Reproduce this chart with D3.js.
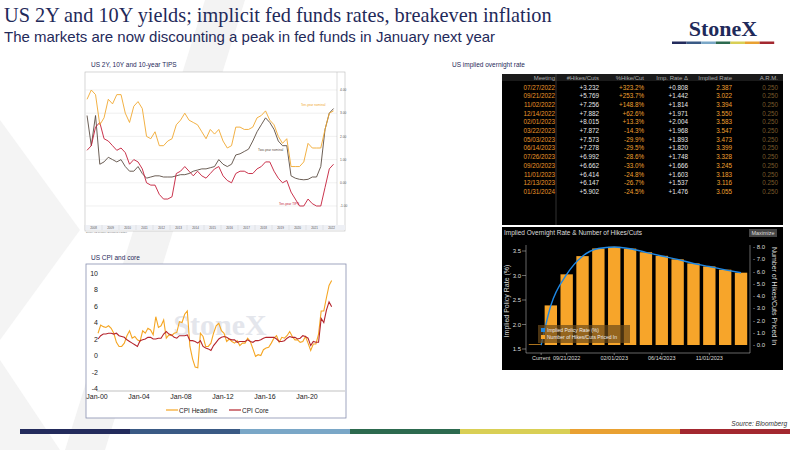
<!DOCTYPE html>
<html><head><meta charset="utf-8">
<script src="https://cdn.jsdelivr.net/npm/d3@7"></script>
<style>body{margin:0;background:#fff}svg{display:block}</style>
</head><body><svg id="s" width="800" height="450"></svg>
<script>
// ---------- DATA ----------
const yieldYears = d3.range(2008, 2023);
const tenY = [3.6,4.0,3.8,2.5, 2.8,3.6,3.4,3.8, 3.8,3.0,2.6,3.3, 3.5,3.2,2.0,1.9, 2.2,1.6,1.6,1.8, 1.9,2.5,2.7,3.0, 2.7,2.6,2.5,2.2, 1.9,2.3,2.1,2.3, 1.8,1.5,1.6,2.4, 2.4,2.3,2.3,2.4, 2.8,2.9,3.1,2.7, 2.5,2.0,1.7,1.9, 0.7,0.7,0.7,0.9, 1.7,1.5,1.5,1.5, 2.3,3.0,3.1];
const twoY = [2.9,1.6,2.9,0.8, 0.9,1.1,1.0,0.9, 1.0,0.7,0.5,0.5, 0.7,0.4,0.2,0.25, 0.3,0.3,0.25,0.25, 0.25,0.3,0.35,0.35, 0.4,0.5,0.55,0.6, 0.6,0.65,0.7,1.0, 0.8,0.7,0.8,1.2, 1.25,1.35,1.45,1.8, 2.2,2.5,2.8,2.6, 2.3,1.8,1.6,1.6, 0.3,0.2,0.15,0.13, 0.15,0.25,0.25,0.7, 2.3,3.0,3.2];
const tips = [1.4,1.6,2.4,2.6, 1.9,1.8,1.6,1.4, 1.5,1.3,0.8,1.0, 0.9,0.6,0.0,-0.1, -0.1,-0.5,-0.7,-0.7, -0.6,0.4,0.5,0.7, 0.5,0.3,0.5,0.3, 0.2,0.4,0.6,0.7, 0.3,0.1,0.0,0.4, 0.5,0.5,0.4,0.4, 0.6,0.7,0.9,0.9, 0.5,0.2,0.0,0.1, -0.4,-0.7,-1.0,-1.0, -0.7,-0.9,-1.0,-1.0, -0.2,0.6,0.8];
const yieldTicks = [4.00,3.00,2.00,1.00,0.00,-1.00];

const cpiHead = [2.7,3.7,3.5,3.4, 3.6,3.3,2.7,1.6, 1.1,1.1,1.5,2.4, 3.0,2.1,2.3,1.9, 1.7,3.0,2.7,3.3, 3.1,2.5,4.7,3.4, 3.6,4.3,2.1,2.5, 2.4,2.7,2.8,4.1, 4.0,5.0,5.4,1.1, -0.4,-1.4,-1.5,2.7, 2.3,1.1,1.1,1.5, 2.7,3.6,3.9,3.0, 2.7,1.7,2.0,1.7, 1.5,1.8,1.2,1.5, 1.5,2.1,1.7,0.8, -0.1,0.1,0.0,0.7, 0.9,1.0,1.5,2.1, 2.4,1.6,2.2,2.1, 2.4,2.9,2.3,1.9, 1.9,1.6,1.7,2.3, 1.5,0.6,1.4,1.4, 2.6,5.4,5.4,7.0, 8.5,9.1];
const cpiCore = [2.0,2.4,2.6,2.6, 2.7,2.7,2.6,2.7, 2.4,2.3,2.2,1.9, 1.7,1.5,1.3,1.1, 1.8,1.9,2.0,2.2, 2.2,2.0,2.0,2.1, 2.1,2.6,2.9,2.6, 2.5,2.2,2.1,2.4, 2.4,2.4,2.5,1.8, 1.8,1.7,1.5,1.8, 1.1,0.9,0.8,0.6, 1.2,1.6,2.0,2.2, 2.3,2.2,2.0,1.9, 1.9,1.6,1.7,1.7, 1.7,1.9,1.7,1.6, 1.8,1.8,1.9,2.1, 2.2,2.2,2.2,2.2, 2.0,1.7,1.7,1.8, 2.1,2.3,2.2,2.2, 2.0,2.1,2.4,2.3, 2.1,1.2,1.7,1.6, 1.6,4.5,4.0,5.5, 6.5,5.9];
const cpiTicks = [10,8,6,4,2,0,-2,-4];
const cpiXLabels = ["Jan-00","Jan-04","Jan-08","Jan-12","Jan-16","Jan-20"];

const tableHeader = ["Meeting","#Hikes/Cuts","%Hike/Cut","Imp. Rate Δ","Implied Rate","A.R.M."];
const meetings = ["07/27/2022","09/21/2022","11/02/2022","12/14/2022","02/01/2023","03/22/2023","05/03/2023","06/14/2023","07/26/2023","09/20/2023","11/01/2023","12/13/2023","01/31/2024"];
const hikes = [3.232,5.769,7.256,7.882,8.015,7.872,7.573,7.278,6.992,6.662,6.414,6.147,5.902];
const pctHike = ["+323.2%","+253.7%","+148.8%","+62.6%","+13.3%","-14.3%","-29.9%","-29.5%","-28.6%","-33.0%","-24.8%","-26.7%","-24.5%"];
const impDelta = [0.808,1.442,1.814,1.971,2.004,1.968,1.893,1.820,1.748,1.666,1.603,1.537,1.476];
const impRate = [2.387,3.022,3.394,3.550,3.583,3.547,3.473,3.399,3.328,3.245,3.183,3.116,3.055];
const arm = 0.250;
const currentRate = 1.58;
const barXLabels = ["Current","09/21/2022","02/01/2023","06/14/2023","11/01/2023"];
const leftTicks = [1.5,2.0,2.5,3.0,3.5];
const rightTicks = [0,1,2,3,4,5,6,7,8];

const stripe = ["#232b5c","#3a5a85","#7aa7c7","#2d6a4f","#d9cf55","#e9a132","#a3282f"];

// ---------- DRAW ----------
const svg = d3.select("#s");
const navy = "#1f2a5a";
svg.append("path").attr("d","M205,0 L245,0 L105,450 L65,450 Z").attr("fill","#f3f3f3");
svg.append("path").attr("d","M0,120 L80,230 L0,340 Z").attr("fill","#f4f4f4");
svg.append("path").attr("d","M0,360 L60,450 L0,450 Z").attr("fill","#f4f4f4");

svg.append("text").attr("x",4).attr("y",22).attr("font-family","Liberation Serif").attr("font-size",20.3).attr("fill",navy).text("US 2Y and 10Y yields; implicit fed funds rates, breakeven inflation");
svg.append("text").attr("x",4).attr("y",42).attr("font-family","Liberation Sans").attr("font-size",15).attr("fill",navy).text("The markets are now discounting a peak in fed funds in January next year");
svg.append("text").attr("x",723).attr("y",36).attr("text-anchor","middle").attr("font-family","Liberation Serif").attr("font-weight","bold").attr("font-size",22).attr("fill",navy).text("StoneX");
stripe.forEach((c,i)=>svg.append("rect").attr("x",672+i*14.6).attr("y",41.5).attr("width",14.6).attr("height",2.5).attr("fill",c));
stripe.forEach((c,i)=>svg.append("rect").attr("x",20+i*110).attr("y",429).attr("width",110).attr("height",5).attr("fill",c));
svg.append("text").attr("x",787).attr("y",426).attr("text-anchor","end").attr("font-family","Liberation Sans").attr("font-style","italic").attr("font-size",6.5).attr("fill","#333").text("Source: Bloomberg");

// ---- top-left yields chart ----
(function(){
  const g = svg.append("g");
  g.append("text").attr("x",91).attr("y",67).attr("font-family","Liberation Sans").attr("font-size",6.5).attr("fill",navy).text("US 2Y, 10Y and 10-year TIPS");
  const L=85,R=337,T=72,B=225;
  g.append("rect").attr("x",L).attr("y",T).attr("width",260).attr("height",159).attr("fill","#fff").attr("stroke","#bbb").attr("stroke-width",0.6);
  const x = d3.scaleLinear().domain([2008,2023]).range([L,R+3]);
  const y = d3.scaleLinear().domain([-1,4]).range([206,90]);
  yieldTicks.forEach(t=>{
    g.append("line").attr("x1",L).attr("x2",R).attr("y1",y(t)).attr("y2",y(t)).attr("stroke","#e6e6e6").attr("stroke-width",0.6);
    g.append("text").attr("x",R+3).attr("y",y(t)+1.2).attr("font-size",3.2).attr("font-family","Liberation Sans").attr("fill","#555").text(t.toFixed(2));
  });
  g.append("line").attr("x1",R).attr("x2",R).attr("y1",T).attr("y2",B).attr("stroke","#bbb").attr("stroke-width",0.5);
  g.append("rect").attr("x",L).attr("y",B).attr("width",260).attr("height",5).attr("fill","#eef0f5");
  yieldYears.forEach(yr=>{
    g.append("text").attr("x",x(yr+0.5)).attr("y",229).attr("text-anchor","middle").attr("font-size",3).attr("font-family","Liberation Sans").attr("fill","#555").text(yr);
    g.append("line").attr("x1",x(yr)).attr("x2",x(yr)).attr("y1",B).attr("y2",B+5).attr("stroke","#ccc").attr("stroke-width",0.4);
  });
  const line = d3.line().x((d,i)=>x(2008+i/4+0.12)).y(d=>y(d));
  [[twoY,"#5b4d43"],[tips,"#c41e3a"],[tenY,"#f0a830"]].forEach(([d,c])=>g.append("path").attr("d",line(d)).attr("fill","none").attr("stroke",c).attr("stroke-width",0.9));
  g.append("text").attr("x",301).attr("y",106).attr("font-size",3.2).attr("fill","#f0a830").attr("font-family","Liberation Sans").text("Ten-year nominal");
  g.append("text").attr("x",258).attr("y",151).attr("font-size",3.2).attr("fill","#5b4d43").attr("font-family","Liberation Sans").text("Two-year nominal");
  g.append("text").attr("x",279).attr("y",205).attr("font-size",3.2).attr("fill","#c41e3a").attr("font-family","Liberation Sans").text("Ten-year TIPS");
  g.append("text").attr("x",L+1).attr("y",233).attr("font-size",2.2).attr("fill","#777").attr("font-family","Liberation Sans").text("Source: US Treasury; Bloomberg; FactSet");
})();

// ---- bottom-left CPI ----
(function(){
  const g = svg.append("g");
  g.append("text").attr("x",91).attr("y",260).attr("font-family","Liberation Sans").attr("font-size",6.5).attr("fill",navy).text("US CPI and core");
  g.append("rect").attr("x",86).attr("y",264).attr("width",260).attr("height",154).attr("fill","#fff").attr("stroke","#8890b0").attr("stroke-width",0.8);
  const x = d3.scaleLinear().domain([2000,2020]).range([97,307]);
  const y = d3.scaleLinear().domain([-4,10]).range([388.5,273]);
  g.append("text").attr("x",220).attr("y",335).attr("text-anchor","middle").attr("font-family","Liberation Serif").attr("font-weight","bold").attr("font-size",30).attr("fill","#e4e6ec").text("StoneX");
  cpiTicks.forEach(t=>g.append("text").attr("x",98).attr("y",y(t)+2.5).attr("text-anchor","end").attr("font-size",7).attr("font-family","Liberation Sans").attr("fill","#222").text(t));
  g.append("line").attr("x1",97).attr("x2",345).attr("y1",391).attr("y2",391).attr("stroke","#999").attr("stroke-width",0.6);
  cpiXLabels.forEach((l,i)=>g.append("text").attr("x",x(2000+i*4)).attr("y",399).attr("text-anchor","middle").attr("font-size",7).attr("font-family","Liberation Sans").attr("fill","#222").text(l));
  const line = d3.line().x((d,i)=>x(2000+i/4+0.1)).y(d=>y(d));
  g.append("path").attr("d",line(cpiHead)).attr("fill","none").attr("stroke","#f5a623").attr("stroke-width",1.1);
  g.append("path").attr("d",line(cpiCore)).attr("fill","none").attr("stroke","#b5252d").attr("stroke-width",1.1);
  g.append("line").attr("x1",166).attr("x2",178).attr("y1",410).attr("y2",410).attr("stroke","#f5a623").attr("stroke-width",1.2);
  g.append("text").attr("x",179).attr("y",412.5).attr("font-size",6.5).attr("font-family","Liberation Sans").attr("fill","#222").text("CPI Headline");
  g.append("line").attr("x1",229).attr("x2",241).attr("y1",410).attr("y2",410).attr("stroke","#b5252d").attr("stroke-width",1.2);
  g.append("text").attr("x",242).attr("y",412.5).attr("font-size",6.5).attr("font-family","Liberation Sans").attr("fill","#222").text("CPI Core");
})();

// ---- table ----
(function(){
  const g = svg.append("g");
  g.append("text").attr("x",452).attr("y",67).attr("font-family","Liberation Sans").attr("font-size",6.5).attr("fill",navy).text("US implied overnight  rate");
  g.append("rect").attr("x",502).attr("y",74).attr("width",281).attr("height",151).attr("fill","#000");
  g.append("rect").attr("x",502).attr("y",74).attr("width",281).attr("height",7).attr("fill","#1a1a1a");
  g.append("line").attr("x1",556).attr("x2",556).attr("y1",74).attr("y2",225).attr("stroke","#555").attr("stroke-width",0.6);
  const cx=[555,599,644,688,732,778];
  tableHeader.forEach((h,i)=>g.append("text").attr("x",cx[i]).attr("y",80).attr("text-anchor","end").attr("font-size",6).attr("font-family","Liberation Sans").attr("fill","#aaa").text(h));
  meetings.forEach((m,r)=>{
    const yy=89.5+r*8.7;
    const vals=[m,"+"+hikes[r].toFixed(3),pctHike[r],"+"+impDelta[r].toFixed(3),impRate[r].toFixed(3),arm.toFixed(3)];
    vals.forEach((v,i)=>g.append("text").attr("x",cx[i]).attr("y",yy).attr("text-anchor","end").attr("font-size",6.3).attr("font-family","Liberation Sans").attr("fill",i==5?"#7a5a2a":(i==0?"#e9962a":(i==1||i==3?"#e8e8e8":"#f0a030"))).text(v));
  });
})();

// ---- bar/line chart ----
(function(){
  const g = svg.append("g");
  g.append("rect").attr("x",502).attr("y",227).attr("width",281).attr("height",143).attr("fill","#000");
  g.append("text").attr("x",504).attr("y",235).attr("font-size",6.5).attr("font-family","Liberation Sans").attr("fill","#ddd").text("Implied Overnight Rate & Number of Hikes/Cuts");
  g.append("rect").attr("x",749).attr("y",229).attr("width",28).attr("height",8).attr("fill","#444");
  g.append("text").attr("x",763).attr("y",235).attr("text-anchor","middle").attr("font-size",5.5).attr("font-family","Liberation Sans").attr("fill","#ddd").text("Maximize");
  const cats=["Current",...meetings];
  const x=d3.scaleBand().domain(cats).range([528,748]).paddingInner(0.22).paddingOuter(0.05);
  const yl=d3.scaleLinear().domain([1.5,3.5]).range([349,251]);
  const yr=d3.scaleLinear().domain([0,8]).range([345,247]);
  g.selectAll(".b").data(meetings).enter().append("rect").attr("x",d=>x(d)).attr("width",x.bandwidth()).attr("y",(d,i)=>yr(hikes[i])).attr("height",(d,i)=>yr(0)-yr(hikes[i])).attr("fill","#f7a52a");
  g.append("rect").attr("x",x("Current")).attr("width",x.bandwidth()).attr("y",yr(0)-0.7).attr("height",0.7).attr("fill","#f7a52a");
  const pts=[[x("Current")+x.bandwidth(),currentRate],...meetings.map((m,i)=>[x(m)+x.bandwidth()/2,impRate[i]])];
  g.append("path").attr("d",d3.line().curve(d3.curveMonotoneX).x(d=>d[0]).y(d=>yl(d[1]))(pts)).attr("fill","none").attr("stroke","#1e88e5").attr("stroke-width",1.4);
  const axc="#ccc";
  g.append("line").attr("x1",526).attr("x2",526).attr("y1",245).attr("y2",353).attr("stroke",axc).attr("stroke-width",0.5);
  g.append("line").attr("x1",750).attr("x2",750).attr("y1",245).attr("y2",353).attr("stroke",axc).attr("stroke-width",0.5);
  g.append("line").attr("x1",526).attr("x2",750).attr("y1",353).attr("y2",353).attr("stroke",axc).attr("stroke-width",0.5);
  leftTicks.forEach(t=>{g.append("text").attr("x",521).attr("y",yl(t)+2).attr("text-anchor","end").attr("font-size",6).attr("font-family","Liberation Sans").attr("fill","#ddd").text(t.toFixed(1));
    g.append("line").attr("x1",522).attr("x2",526).attr("y1",yl(t)).attr("y2",yl(t)).attr("stroke",axc).attr("stroke-width",0.5);});
  rightTicks.forEach(t=>{g.append("text").attr("x",753).attr("y",yr(t)+2).attr("font-size",6).attr("font-family","Liberation Sans").attr("fill","#ddd").text("- "+t.toFixed(1));});
  g.append("text").attr("transform","translate(509,301) rotate(-90)").attr("text-anchor","middle").attr("font-size",7).attr("font-family","Liberation Sans").attr("fill","#ddd").text("Implied Policy Rate (%)");
  g.append("text").attr("transform","translate(772,296) rotate(90)").attr("text-anchor","middle").attr("font-size",7).attr("font-family","Liberation Sans").attr("fill","#ddd").text("Number of Hikes/Cuts Priced In");
  barXLabels.forEach(l=>{const cx=x(l)+x.bandwidth()/2 + (l=="Current"?x.bandwidth()/2:0);
    g.append("text").attr("x",cx).attr("y",360).attr("text-anchor","middle").attr("font-size",5.5).attr("font-family","Liberation Sans").attr("fill","#ddd").text(l);
    g.append("line").attr("x1",cx).attr("x2",cx).attr("y1",353).attr("y2",355).attr("stroke",axc).attr("stroke-width",0.5);});
  g.append("rect").attr("x",538).attr("y",325).attr("width",92).attr("height",18).attr("fill","#6b4a1a").attr("opacity",0.7);
  g.append("rect").attr("x",541).attr("y",328).attr("width",4).attr("height",4).attr("fill","#1e88e5");
  g.append("rect").attr("x",541).attr("y",335).attr("width",4).attr("height",4).attr("fill","#f7a52a");
  g.append("text").attr("x",547).attr("y",332).attr("font-size",5).attr("font-family","Liberation Sans").attr("fill","#eee").text("Implied Policy Rate (%)");
  g.append("text").attr("x",547).attr("y",339).attr("font-size",5).attr("font-family","Liberation Sans").attr("fill","#eee").text("Number of Hikes/Cuts Priced In");
})();
</script></body></html>
